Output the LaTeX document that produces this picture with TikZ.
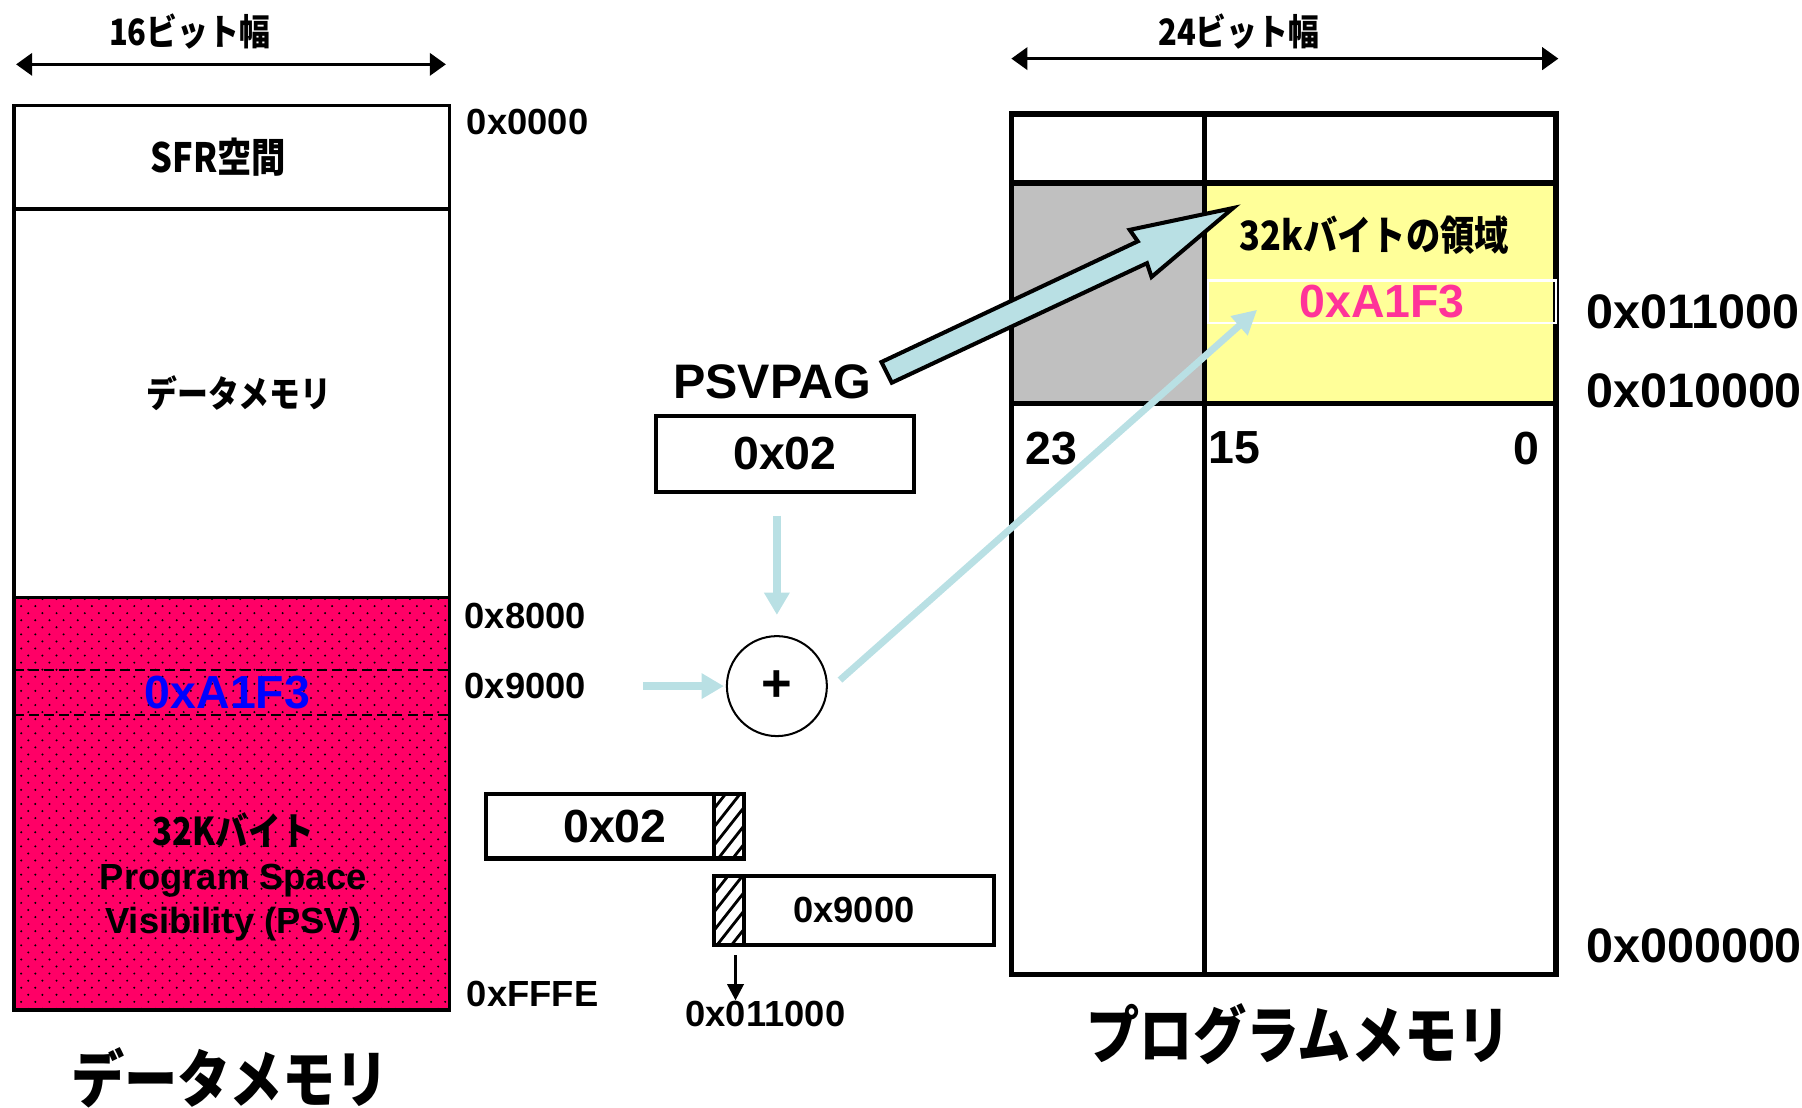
\documentclass[tikz,border=0pt]{standalone}
\usepackage{fontspec}
\setmainfont{Liberation Sans}
\newfontfamily\jpfont{Noto Sans CJK JP}[FakeStretch=0.85]
\usetikzlibrary{arrows.meta,patterns,positioning}
\definecolor{psvpink}{RGB}{255,0,102}
\definecolor{flowblue}{RGB}{185,224,228}
\definecolor{hitpink}{RGB}{255,51,153}
\definecolor{areayellow}{RGB}{255,255,153}
\definecolor{areagray}{RGB}{192,192,192}
\newcommand{\fsz}[1]{\fontsize{#1}{#1}\selectfont}
\pgfdeclarepatternformonly{psvdots}{\pgfqpoint{-1pt}{-1pt}}{\pgfqpoint{7pt}{7pt}}{\pgfqpoint{7pt}{7pt}}{%
  \pgfpathcircle{\pgfqpoint{0pt}{0pt}}{0.55pt}
  \pgfpathcircle{\pgfqpoint{3.5pt}{3.5pt}}{0.55pt}
  \pgfusepath{fill}}

\begin{document}
\begin{tikzpicture}[x=0.02cm, y=-0.02cm,
  txt/.style = {inner sep=0pt, font=\bfseries\fsz{18}},
  addr/.style = {txt, anchor=west},
  bigaddr/.style = {txt, anchor=west, font=\bfseries\fsz{24}},
  jp/.style = {inner sep=0pt, font=\jpfont\bfseries\fsz{#1}},
  regbox/.style = {draw, line width=2pt, inner sep=0pt, font=\bfseries\fsz{23}},
  flow/.style = {draw=flowblue, line width=4pt, -{Triangle[length=11pt,width=12pt]}},
  widtharrow/.style = {line width=1.7pt, {Triangle[length=8pt,width=11pt]}-{Triangle[length=8pt,width=11pt]}},
  hatch/.style = {line width=1.4pt}]
\useasboundingbox (0,0) rectangle (1568,964);

% data memory
\fill[psvpink] (12,520) rectangle (391,879);
\fill[pattern=psvdots, pattern color=black] (12,520) rectangle (391,879);
\draw[line width=1.7pt] (12,92) rectangle (391,879) (12,182) -- (391,182) (12,520) -- (391,520);
\draw[line width=1pt, dash pattern=on 5pt off 2.5pt] (12,583) -- (391,583) (12,622) -- (391,622);

\node[jp=20] (sfr) at (190,137) {SFR空間};
\node[jp=18] (dmem) at (208,342) {データメモリ};
\node[txt, font=\bfseries\fsz{23}, text=blue] (src) at (198,603) {0xA1F3};
\node[txt, align=center, font=\bfseries\fontsize{18}{22}\selectfont] (psvarea) at (203,763) {{\jpfont\fsz{19}32Kバイト}\\Program Space\\Visibility (PSV)};

\node[addr] (a0) at (406,106) {0x0000};
\node[addr] (a8) at (404,536) {0x8000};
\node[addr] (a9) at (404,597) {0x9000};
\node[addr] (af) at (406,865) {0xFFFE};
\node[jp=31] (dtitle) at (200,938) {データメモリ};

\coordinate (dl) at (14,56);
\coordinate (dr) at (388,56);
\draw[widtharrow] (dl) -- (dr);
\node[jp=18] (dw) at (165,27) {16ビット幅};

% program memory
\fill[areagray] (880,159) rectangle (1048,351);
\fill[areayellow] (1048,159) rectangle (1354,351);
\draw[line width=2.8pt] (880,99) rectangle (1354,848) (1048,99) -- (1048,848) (880,159) -- (1354,159) (880,351) -- (1354,351);

\node[jp=20] (area) at (1196,205) {32kバイトの領域};
\node[draw=white, line width=1.2pt, inner sep=0pt, minimum width=6.06cm, minimum height=0.74cm,
      font=\bfseries\fsz{23}, text=hitpink] (hitrow) at (1202.5,262.5) {0xA1F3};
\node[txt, font=\bfseries\fsz{23}] (b23) at (915,390) {23};
\node[txt, font=\bfseries\fsz{23}] (b15) at (1074,390) {15};
\node[txt, font=\bfseries\fsz{23}] (b0) at (1328,390) {0};

\node[bigaddr] (p11) at (1380,271) {0x011000};
\node[bigaddr] (p10) at (1380,340) {0x010000};
\node[bigaddr] (p00) at (1380,823) {0x000000};
\node[jp=31] (ptitle) at (1130,900) {プログラムメモリ};

\coordinate (pl) at (880,51);
\coordinate (pr) at (1356,51);
\draw[widtharrow] (pl) -- (pr);
\node[jp=18] (pw) at (1078,27) {24ビット幅};

% PSVPAG and adder
\node[txt, font=\bfseries\fsz{24}] (psvname) at (672,332) {PSVPAG};
\node[regbox, minimum width=4.48cm, minimum height=1.32cm] (psv) at (683,395) {0x02};
\node[circle, draw, line width=1pt, minimum size=1.74cm, inner sep=0pt, font=\bfseries\fsz{26}] (adder) at (676,597) {+};

\draw[flow, shorten <=10.8pt, shorten >=10pt] (psv.south -| adder) -- (adder.north);
\draw[flow, shorten <=28pt, shorten >=1pt] (a9.east) -- (adder.west);
\draw[draw=flowblue, line width=3.4pt, -{Triangle[length=12pt,width=12pt]}]
  ([xshift=6pt,yshift=3pt]adder.east) -- ([xshift=25pt,yshift=-4pt]hitrow.west);

\draw[line width=2pt, fill=flowblue, line join=miter]
  (767,315) -- (990,210) -- (983,200) -- (1073,181) -- (1002,241) -- (998,229) -- (776,333) -- cycle;

% page + offset
\node[regbox, minimum width=4.48cm, minimum height=1.12cm] (pageval) at (535,719) {0x02};
\node[regbox, minimum width=4.88cm, minimum height=1.2cm, font=\bfseries\fsz{18}] (offval) at (743,792) {0x9000};
\draw[line width=2pt] (621,691) -- (621,747) (647,762) -- (647,822);
\begin{scope}
  \clip (621,691) rectangle (647,747);
  \foreach \k in {0,...,4}
    \draw[hatch] (621,768-16*\k) -- ++(26,-33);
\end{scope}
\begin{scope}
  \clip (621,762) rectangle (647,822);
  \foreach \k in {0,...,5}
    \draw[hatch] (621,842-16*\k) -- ++(26,-33);
\end{scope}

\node[txt] (linaddr) at (666,882) {0x011000};
\coordinate (lintop) at (640,831);
\draw[line width=1.5pt, -{Triangle[length=8pt,width=8pt]}] (lintop) -- (lintop |- linaddr.north);

\end{tikzpicture}
\end{document}
